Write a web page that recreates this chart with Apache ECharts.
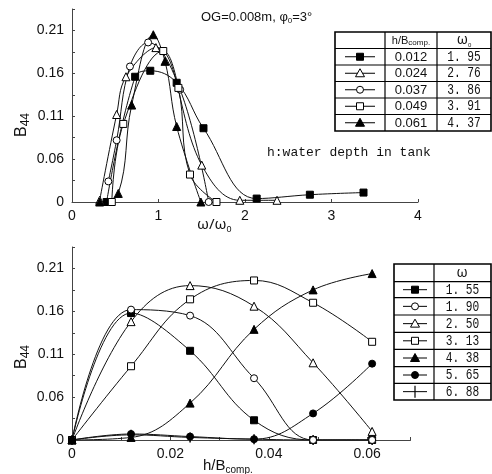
<!DOCTYPE html>
<html lang="en">
<head>
    <meta charset="UTF-8">
    <title>B44</title>
    <style>
        html,body{ width:100%; height:100%; margin:0; padding:0; background:#fff; }
        #chart{ width:492px; height:474px; }
    </style>
</head>
<body>
    <div id="chart"></div>
    <script src="https://cdn.jsdelivr.net/npm/echarts@6/dist/echarts.min.js"></script>
    <script>
        // ---- upper panel: B44 against omega/omega0, one curve per h/Bcomp ----
        var upperRatio = ['0.012', '0.024', '0.037', '0.049', '0.061'];
        var upperOmega0 = ['1. 95', '2. 76', '3. 86', '3. 91', '4. 37'];
        var up012 = [[0.40, 0.01], [0.73, 0.156], [0.905, 0.163], [1.21, 0.149], [1.52, 0.096], [2.135, 0.014], [2.75, 0.0185], [3.37, 0.021]];
        var up024 = [[0.32, 0.012], [0.516, 0.112], [0.624, 0.156], [0.97, 0.19], [1.5, 0.053], [1.94, 0.012], [2.37, 0.012]];
        var up037 = [[0.42, 0.034], [0.516, 0.082], [0.67, 0.168], [0.88, 0.196], [1.25, 0.141], [1.58, 0.01]];
        var up049 = [[0.46, 0.01], [0.593, 0.101], [1.055, 0.186], [1.23, 0.143], [1.364, 0.042], [1.67, 0.01]];
        var up061 = [[0.32, 0.01], [0.535, 0.02], [0.69, 0.123], [0.94, 0.205], [1.075, 0.174], [1.21, 0.098], [1.49, 0.01]];

        // ---- lower panel: B44 against h/Bcomp, one curve per omega ----
        var hB = [0, 0.012, 0.024, 0.037, 0.049, 0.061];
        var lowerOmega = ['1. 55', '1. 90', '2. 50', '3. 13', '4. 38', '5. 65', '6. 88'];
        var w155 = [0.01, 0.158, 0.114, 0.033, 0.01, 0.01];
        var w190 = [0.01, 0.162, 0.155, 0.082, 0.01, 0.01];
        var w250 = [0.01, 0.148, 0.19, 0.166, 0.100, 0.020];
        var w313 = [0.01, 0.096, 0.174, 0.196, 0.170, 0.1245];
        var w438 = [0.01, 0.013, 0.053, 0.139, 0.185, 0.204];
        var w565 = [0.01, 0.017, 0.014, 0.011, 0.041, 0.099];
        var w688 = [0.01, 0.016, 0.013, 0.011, 0.01, 0.01];

        // ---- ticks ----
        var yLabelVals = [0.01, 0.06, 0.11, 0.16, 0.21];
        var yLabelText = ['0', '0.06', '0.11', '0.16', '0.21'];
        var yTickVals = [0.01, 0.035, 0.06, 0.085, 0.11, 0.135, 0.16, 0.185, 0.21, 0.235];
        var xTopLabels = [0, 1, 2, 3, 4];
        var xBotLabelVals = [0, 0.02, 0.04, 0.06];
        var xBotLabelText = ['0', '0.02', '0.04', '0.06'];
        var xBotTickVals = [0, 0.01, 0.02, 0.03, 0.04, 0.05, 0.06, 0.0688];

        var LABEL_FONT = '"Liberation Sans Narrow", "Liberation Sans", Arial, sans-serif';
        var MONO = '"Liberation Mono", "DejaVu Sans Mono", monospace';
        var AXIS_COLOR = '#444';

        // marker look for each kind
        var SYM = {
            sqF: { symbol: 'rect', fill: '#000', size: 7 },
            sqO: { symbol: 'rect', fill: '#fff', size: 7 },
            ciO: { symbol: 'circle', fill: '#fff', size: 7 },
            ciF: { symbol: 'circle', fill: '#000', size: 7 },
            trO: { symbol: 'triangle', fill: '#fff', size: 8 },
            trF: { symbol: 'triangle', fill: '#000', size: 8 },
            plus: { symbol: 'path://M0,0H1V10H0Z', fill: '#000', size: [1.5, 10] }
        };

        function labelFrom(vals, texts) {
            return function (v) {
                for (var i = 0; i < vals.length; i++) {
                    if (Math.abs(vals[i] - v) < 1e-6) return texts[i];
                }
                return '';
            };
        }

        function yAxisCfg(gridIndex) {
            return {
                type: 'value', gridIndex: gridIndex, min: 0.01, max: 0.235,
                splitLine: { show: false },
                axisLine: { show: true, lineStyle: { color: AXIS_COLOR, width: 1 } },
                axisTick: { show: true, inside: true, length: 3, customValues: yTickVals, lineStyle: { color: AXIS_COLOR } },
                axisLabel: {
                    customValues: yLabelVals, formatter: labelFrom(yLabelVals, yLabelText),
                    color: '#111', fontSize: 14, fontFamily: LABEL_FONT, margin: 8
                }
            };
        }

        function makeSeries(kind, data, xi, yi) {
            var s = SYM[kind];
            return {
                type: 'line', xAxisIndex: xi, yAxisIndex: yi,
                data: data, smooth: 0.4,
                symbol: s.symbol, symbolSize: s.size, showAllSymbol: true,
                lineStyle: { color: '#111', width: 1 },
                itemStyle: { color: s.fill, borderColor: '#000', borderWidth: kind === 'plus' ? 0 : 1 },
                emphasis: { disabled: true },
                animation: false
            };
        }

        function zip(xs, ys) {
            return xs.map(function (x, i) { return [x, ys[i]]; });
        }

        // ---- graphic helpers for tables and texts ----
        function seg(x1, y1, x2, y2, w) {
            return { type: 'line', silent: true, shape: { x1: x1, y1: y1, x2: x2, y2: y2 }, style: { stroke: '#000', lineWidth: w || 1 } };
        }
        function txt(x, y, text, font, align, sx) {
            return {
                type: 'text', silent: true, x: x, y: y, scaleX: sx || 1,
                style: { text: text, font: font, fill: '#111', align: align || 'center', verticalAlign: 'middle' }
            };
        }
        function marker(kind, cx, cy) {
            var s = 7;
            var st = { fill: SYM[kind].fill, stroke: '#000', lineWidth: 1 };
            if (kind === 'sqF' || kind === 'sqO') {
                return { type: 'rect', silent: true, shape: { x: cx - s / 2, y: cy - s / 2, width: s, height: s }, style: st };
            }
            if (kind === 'ciF' || kind === 'ciO') {
                return { type: 'circle', silent: true, shape: { cx: cx, cy: cy, r: s / 2 }, style: st };
            }
            if (kind === 'trF' || kind === 'trO') {
                return { type: 'polygon', silent: true, shape: { points: [[cx, cy - 4.5], [cx + 4.5, cy + 3.5], [cx - 4.5, cy + 3.5]] }, style: st };
            }
            return seg(cx, cy - 6, cx, cy + 6, 1.2);
        }

        function table(x, y, rowH, kinds, cols, headers, cellTexts, lineLeft, lineRight) {
            var g = [];
            var bottom = y[y.length - 1];
            g.push({ type: 'rect', silent: true, shape: { x: cols[0], y: y[0], width: cols[cols.length - 1] - cols[0], height: bottom - y[0] }, style: { fill: '#fff', stroke: '#000', lineWidth: 1.6 } });
            for (var i = 1; i < y.length - 1; i++) g.push(seg(cols[0], y[i], cols[cols.length - 1], y[i], 1.2));
            for (var j = 1; j < cols.length - 1; j++) g.push(seg(cols[j], y[0], cols[j], bottom, 1.2));
            headers.forEach(function (h) { g.push(h); });
            kinds.forEach(function (k, r) {
                var cy = (y[r + 1] + y[r + 2]) / 2;
                g.push(seg(lineLeft, cy, lineRight, cy, 1));
                g.push(marker(k, (lineLeft + lineRight) / 2, cy));
                cellTexts.forEach(function (ct) {
                    g.push(txt((cols[ct.col] + cols[ct.col + 1]) / 2, cy + 0.5, ct.values[r], ct.font, 'center', ct.sx));
                });
            });
            return g;
        }

        var upperKinds = ['sqF', 'trO', 'ciO', 'sqO', 'trF'];
        var lowerKinds = ['sqF', 'ciO', 'trO', 'sqO', 'trF', 'ciF', 'plus'];

        var graphics = [];
        // titles and axis names
        graphics.push({
            type: 'text', silent: true, x: 201, y: 17,
            style: {
                text: '{a|OG=0.008m, φ}{s|0}{a|=3°}', fill: '#111', verticalAlign: 'middle',
                rich: { a: { fontSize: 13, fontFamily: LABEL_FONT, lineHeight: 16 }, s: { fontSize: 8, fontFamily: LABEL_FONT, verticalAlign: 'bottom', lineHeight: 10 } }
            }
        });
        graphics.push(txt(267, 153, 'h:water depth in tank', '13px ' + MONO, 'left', 1));
        graphics.push({
            type: 'text', silent: true, x: 197, y: 225,
            style: {
                text: '{a|ω/ω}{s|0}', fill: '#111', verticalAlign: 'middle',
                rich: { a: { fontSize: 15, fontFamily: '"Noto Sans", sans-serif', lineHeight: 18 }, s: { fontSize: 9, fontFamily: LABEL_FONT, verticalAlign: 'bottom', lineHeight: 10 } }
            }
        });
        graphics.push({
            type: 'text', silent: true, x: 203, y: 466,
            style: {
                text: '{a|h/B}{s|comp.}', fill: '#111', verticalAlign: 'middle',
                rich: { a: { fontSize: 15, fontFamily: LABEL_FONT, lineHeight: 18 }, s: { fontSize: 10, fontFamily: LABEL_FONT, verticalAlign: 'bottom', lineHeight: 12 } }
            }
        });
        [125, 357].forEach(function (cy) {
            graphics.push({
                type: 'text', silent: true, x: 22, y: cy, rotation: Math.PI / 2,
                style: {
                    text: '{a|B}{s|44}', fill: '#111', align: 'center', verticalAlign: 'middle',
                    rich: { a: { fontSize: 16, fontFamily: LABEL_FONT, lineHeight: 20 }, s: { fontSize: 12, fontFamily: LABEL_FONT, verticalAlign: 'bottom', lineHeight: 13 } }
                }
            });
        });

        // upper legend table
        var upperHeaders = [
            {
                type: 'text', silent: true, x: 411, y: 40.5,
                style: {
                    text: '{a|h/B}{s|comp.}', fill: '#111', align: 'center', verticalAlign: 'middle',
                    rich: { a: { fontSize: 11, fontFamily: LABEL_FONT, lineHeight: 13 }, s: { fontSize: 8, fontFamily: LABEL_FONT, verticalAlign: 'bottom', lineHeight: 9 } }
                }
            },
            {
                type: 'text', silent: true, x: 464, y: 40,
                style: {
                    text: '{a|ω}{s|0}', fill: '#111', align: 'center', verticalAlign: 'middle',
                    rich: { a: { fontSize: 14, fontFamily: '"Noto Sans", sans-serif', lineHeight: 16 }, s: { fontSize: 6, fontFamily: LABEL_FONT, verticalAlign: 'bottom', lineHeight: 7 } }
                }
            }
        ];
        graphics = graphics.concat(table(0, [32, 48.5, 65, 81.5, 98, 114.5, 131], 16.5, upperKinds, [335, 385, 437, 491], upperHeaders, [
            { col: 1, values: upperRatio, font: '13px ' + LABEL_FONT, sx: 1 },
            { col: 2, values: upperOmega0, font: '14px ' + MONO, sx: 0.8 }
        ], 345, 375));

        // lower legend table
        var lowerHeaders = [
            txt(462, 273, 'ω', '14px "Noto Sans", sans-serif', 'center', 1)
        ];
        graphics = graphics.concat(table(0, [264, 281.7, 297.7, 315, 332.3, 349.3, 366.7, 383.3, 400], 17, lowerKinds, [394, 434, 491], lowerHeaders, [
            { col: 1, values: lowerOmega, font: '14px ' + MONO, sx: 0.8 }
        ], 403, 427));

        var chart = echarts.init(document.getElementById('chart'));
        var option = {
            backgroundColor: '#fff',
            animation: false,
            grid: [
                { left: 72, top: 9, width: 346, height: 193, containLabel: false },
                { left: 72, top: 247, width: 338.5, height: 193, containLabel: false }
            ],
            xAxis: [
                {
                    type: 'value', gridIndex: 0, min: 0, max: 4, interval: 1,
                    splitLine: { show: false },
                    axisLine: { onZero: false, lineStyle: { color: AXIS_COLOR, width: 1 } },
                    axisTick: { inside: true, length: 3, lineStyle: { color: AXIS_COLOR } },
                    axisLabel: { color: '#111', fontSize: 14, fontFamily: LABEL_FONT, margin: 7, customValues: xTopLabels }
                },
                {
                    type: 'value', gridIndex: 1, min: 0, max: 0.0688,
                    splitLine: { show: false },
                    axisLine: { onZero: false, lineStyle: { color: AXIS_COLOR, width: 1 } },
                    axisTick: { inside: true, length: 3, customValues: xBotTickVals, lineStyle: { color: AXIS_COLOR } },
                    axisLabel: {
                        color: '#111', fontSize: 14, fontFamily: LABEL_FONT, margin: 7,
                        customValues: xBotLabelVals, formatter: labelFrom(xBotLabelVals, xBotLabelText)
                    }
                }
            ],
            yAxis: [yAxisCfg(0), yAxisCfg(1)],
            series: [
                makeSeries('sqF', up012, 0, 0),
                makeSeries('trO', up024, 0, 0),
                makeSeries('ciO', up037, 0, 0),
                makeSeries('sqO', up049, 0, 0),
                makeSeries('trF', up061, 0, 0),
                makeSeries('plus', zip(hB, w688), 1, 1),
                makeSeries('sqF', zip(hB, w155), 1, 1),
                makeSeries('ciO', zip(hB, w190), 1, 1),
                makeSeries('trO', zip(hB, w250), 1, 1),
                makeSeries('sqO', zip(hB, w313), 1, 1),
                makeSeries('trF', zip(hB, w438), 1, 1),
                makeSeries('ciF', zip(hB, w565), 1, 1)
            ],
            graphic: graphics
        };
        chart.setOption(option);
    </script>
</body>
</html>
